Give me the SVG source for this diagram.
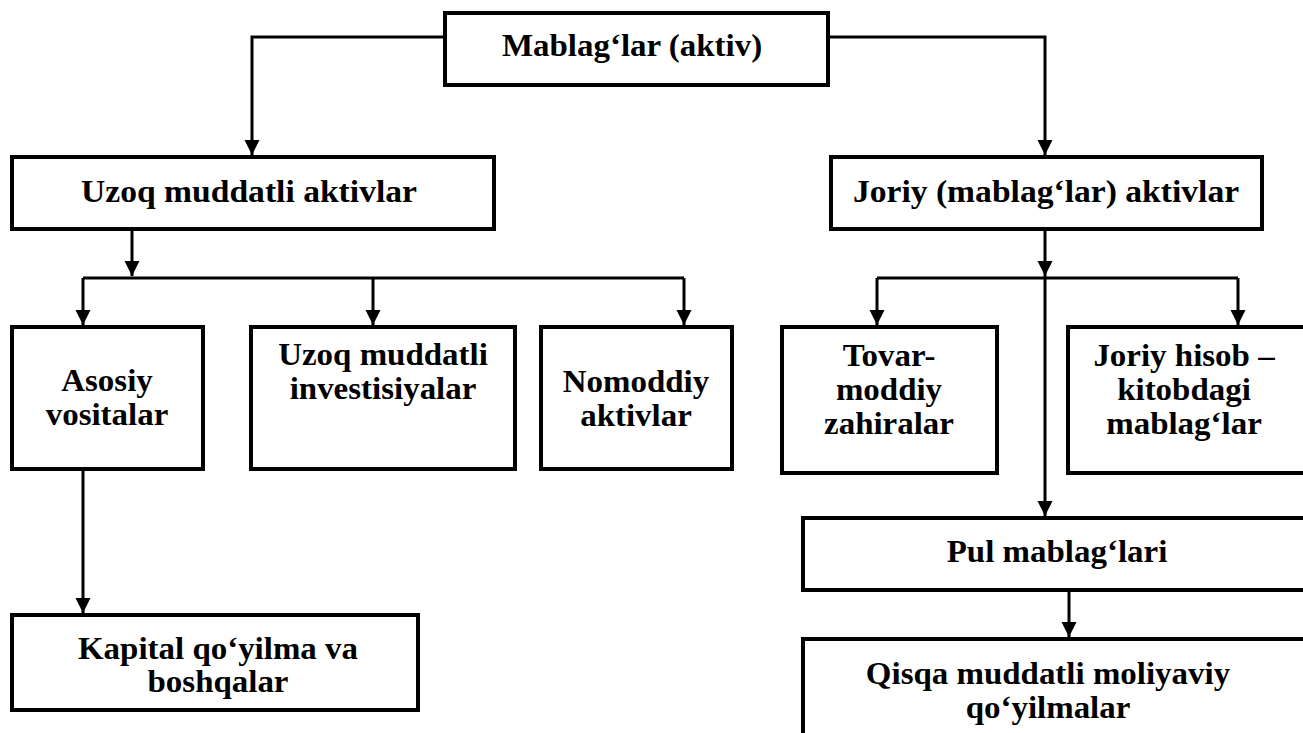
<svg xmlns="http://www.w3.org/2000/svg" width="1303" height="733" viewBox="0 0 1303 733">
  <style>
    .box { fill: #ffffff; stroke: #000000; stroke-width: 4; }
    .wire { fill: none; stroke: #000000; stroke-width: 3; }
    .lbl { font-family: "Liberation Serif", "Times New Roman", serif; font-weight: bold; font-size: 32px; fill: #000000; text-anchor: middle; }
  </style>
  <defs>
    <marker id="arrow" markerUnits="userSpaceOnUse" markerWidth="16" markerHeight="16" refX="15" refY="7.5" orient="auto">
      <path d="M0,0 L15,7.5 L0,15 Z" fill="#000000"/>
    </marker>
  </defs>
  <rect x="0" y="0" width="1303" height="733" fill="#ffffff"/>

  <g id="connectors">
    <path class="wire" d="M445,37 H252 V155" marker-end="url(#arrow)"/>
    <path class="wire" d="M828,37 H1045 V155" marker-end="url(#arrow)"/>
    <path class="wire" d="M132,229 V276" marker-end="url(#arrow)"/>
    <path class="wire" d="M83,278 H684"/>
    <path class="wire" d="M83,278 V325" marker-end="url(#arrow)"/>
    <path class="wire" d="M373,278 V325" marker-end="url(#arrow)"/>
    <path class="wire" d="M684,278 V325" marker-end="url(#arrow)"/>
    <path class="wire" d="M1045,229 V276" marker-end="url(#arrow)"/>
    <path class="wire" d="M877,278 H1238"/>
    <path class="wire" d="M877,278 V325" marker-end="url(#arrow)"/>
    <path class="wire" d="M1238,278 V325" marker-end="url(#arrow)"/>
    <path class="wire" d="M1045,276 V516" marker-end="url(#arrow)"/>
    <path class="wire" d="M83,469 V613" marker-end="url(#arrow)"/>
    <path class="wire" d="M1069,590 V637" marker-end="url(#arrow)"/>
  </g>

  <g id="mablaglar">
    <rect class="box" x="445" y="13" width="383" height="72"/>
    <text class="lbl" transform="translate(632,56) scale(1.03,1)">Mablag‘lar (aktiv)</text>
  </g>

  <g id="uzoq-aktivlar">
    <rect class="box" x="12" y="157" width="482" height="72"/>
    <text class="lbl" transform="translate(249,202) scale(1.05,1)">Uzoq muddatli aktivlar</text>
  </g>

  <g id="joriy-aktivlar">
    <rect class="box" x="831" y="157" width="431" height="72"/>
    <text class="lbl" transform="translate(1046,202) scale(1.05,1)">Joriy (mablag‘lar) aktivlar</text>
  </g>

  <g id="asosiy">
    <rect class="box" x="12" y="327" width="191" height="142"/>
    <text class="lbl" transform="translate(107,391) scale(1.03,1)"><tspan x="0" y="0">Asosiy</tspan><tspan x="0" y="34">vositalar</tspan></text>
  </g>

  <g id="investitsiyalar">
    <rect class="box" x="251" y="327" width="264" height="142"/>
    <text class="lbl" transform="translate(383,365) scale(1.03,1)"><tspan x="0" y="0">Uzoq muddatli</tspan><tspan x="0" y="34">investisiyalar</tspan></text>
  </g>

  <g id="nomoddiy">
    <rect class="box" x="541" y="327" width="191" height="142"/>
    <text class="lbl" transform="translate(636,392) scale(1.03,1)"><tspan x="0" y="0">Nomoddiy</tspan><tspan x="0" y="34">aktivlar</tspan></text>
  </g>

  <g id="tovar">
    <rect class="box" x="782" y="327" width="215" height="146"/>
    <text class="lbl" transform="translate(889,366) scale(1.03,1)"><tspan x="0" y="0">Tovar-</tspan><tspan x="0" y="34">moddiy</tspan><tspan x="0" y="68">zahiralar</tspan></text>
  </g>

  <g id="joriy-hisob">
    <rect class="box" x="1068" y="327" width="260" height="146"/>
    <text class="lbl" transform="translate(1184,366) scale(1.03,1)"><tspan x="0" y="0">Joriy hisob –</tspan><tspan x="0" y="34">kitobdagi</tspan><tspan x="0" y="68">mablag‘lar</tspan></text>
  </g>

  <g id="pul">
    <rect class="box" x="803" y="518" width="520" height="72"/>
    <text class="lbl" transform="translate(1057,562) scale(1.03,1)">Pul mablag‘lari</text>
  </g>

  <g id="qisqa">
    <rect class="box" x="803" y="639" width="520" height="120"/>
    <text class="lbl" transform="translate(1048,684) scale(1.03,1)"><tspan x="0" y="0">Qisqa muddatli moliyaviy</tspan><tspan x="0" y="34">qo‘yilmalar</tspan></text>
  </g>

  <g id="kapital">
    <rect class="box" x="12" y="615" width="406" height="95"/>
    <text class="lbl" transform="translate(218,659) scale(1.03,1)"><tspan x="0" y="0">Kapital qo‘yilma va</tspan><tspan x="0" y="33">boshqalar</tspan></text>
  </g>
</svg>
